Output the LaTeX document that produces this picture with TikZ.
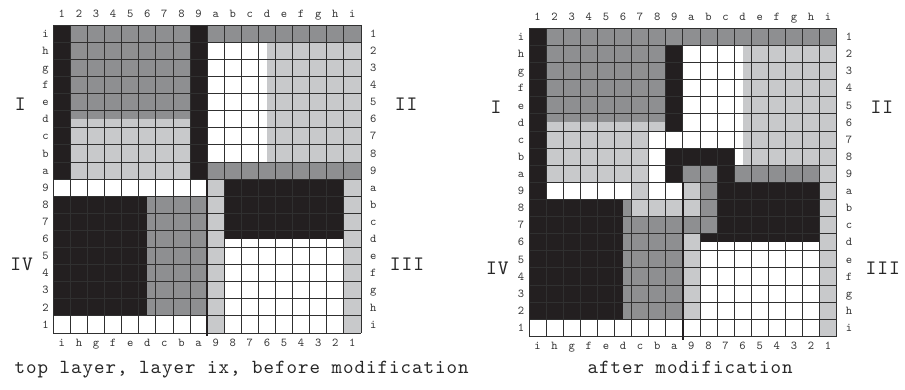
\documentclass[tikz,border=0pt]{standalone}
\usepackage{fontspec}
\newfontfamily\typefont{lmmono10-regular.otf}[LetterSpace=5]
\definecolor{cellblack}{HTML}{231F20}
\definecolor{celldark}{HTML}{8E8F91}
\definecolor{celllight}{HTML}{C8C9CB}
\definecolor{gridline}{HTML}{303030}
\tikzset{
  lbl/.style={font=\typefont\fontsize{12}{12}\selectfont, inner sep=0pt, anchor=base, text=black!80},
  quadname/.style={font=\typefont\fontsize{20.5}{20.5}\selectfont, inner sep=0pt, text=black!85},
  caption/.style={font=\typefont\fontsize{20}{20}\selectfont, inner sep=0pt, anchor=base, text=black!85},
  gridlines/.style={draw=gridline, line width=0.75pt},
  divider/.style={draw=cellblack, line width=1.6pt},
  board/.style={x=17.09pt, y=-17.11pt},
}
% grid lines, centre divider, coordinate labels and quadrant names of one 18x18 board
\newcommand\boardframe[1]{%
  \foreach \i in {0,...,18}{
    \draw[gridlines] (\i,0) -- (\i,18);
    \draw[gridlines] (0,\i) -- (18,\i);
  }
  \draw[divider] (9,9) -- (9,18.2);
  \foreach \t [count=\k from 0] in {1,2,3,4,5,6,7,8,9,a,b,c,d,e,f,g,h,i}{
    \node[lbl] (#1-top-\k) at (\k+0.5,-0.45) {\t};
    \node[lbl] (#1-right-\k) at (18.72,\k+0.72) {\t};
  }
  \foreach \t [count=\k from 0] in {i,h,g,f,e,d,c,b,a,9,8,7,6,5,4,3,2,1}{
    \node[lbl] (#1-left-\k) at (-0.46,\k+0.72) {\t};
    \node[lbl] (#1-bottom-\k) at (\k+0.5,18.8) {\t};
  }
  \node[quadname] (#1-I) at (-1.93,4.62) {I};
  \node[quadname] (#1-II) at (20.65,4.62) {II};
  \node[quadname] (#1-III) at (20.7,14.0) {III};
  \node[quadname] (#1-IV) at (-1.85,14.0) {IV};
}
\begin{document}
\begin{tikzpicture}[x=1pt,y=-1pt]
\useasboundingbox (0,0) rectangle (905,390);

% board before modification
\begin{scope}[shift={(53.3,25)}, board]
  % quadrant I
  \fill[cellblack] (0,0) rectangle (1,9);
  \fill[cellblack] (8,0) rectangle (9,9);
  \fill[celldark] (1,0) rectangle (8,5.5);
  \fill[celllight] (1,5.5) rectangle (8,9);
  % quadrant II
  \fill[celldark] (9,0) rectangle (18,1);
  \fill[celldark] (9,8) rectangle (18,9);
  \fill[celllight] (12.5,1) rectangle (18,8);
  % quadrant III
  \fill[celllight] (9,9) rectangle (10,18);
  \fill[celllight] (17,9) rectangle (18,18);
  \fill[cellblack] (10,9) rectangle (17,12.5);
  % quadrant IV
  \fill[cellblack] (0,10) rectangle (5.5,17);
  \fill[celldark] (5.5,10) rectangle (9,17);
  \boardframe{pre}
\end{scope}

% board after modification
\begin{scope}[shift={(529,28.3)}, board]
  % quadrant I
  \fill[cellblack] (0,0) rectangle (1,10);
  \fill[celldark] (1,0) rectangle (18,1);
  \fill[celldark] (1,1) rectangle (8,5.5);
  \fill[celllight] (1,5.5) rectangle (7,9);
  \fill[celllight] (7,5.5) rectangle (8,6);
  \fill[cellblack] (8,1) rectangle (9,6);
  \fill[cellblack] (8,7) rectangle (12,8);
  \fill[cellblack] (8,8) rectangle (9,9);
  \fill[celllight] (6,9) rectangle (7,10);
  % quadrant II
  \fill[celllight] (12.5,1) rectangle (18,8);
  \fill[celldark] (9,8) rectangle (11,9);
  \fill[cellblack] (11,8) rectangle (12,9);
  \fill[celldark] (12,8) rectangle (17,9);
  \fill[celllight] (17,8) rectangle (18,9);
  % quadrant III
  \fill[celllight] (9,9) rectangle (10,11);
  \fill[celldark] (9,11) rectangle (10,12);
  \fill[celllight] (9,12) rectangle (10,17);
  \fill[celldark] (10,9) rectangle (11,12);
  \fill[cellblack] (11,9) rectangle (17,12);
  \fill[cellblack] (10,12) rectangle (17,12.5);
  \fill[celllight] (17,9) rectangle (18,18);
  % quadrant IV
  \fill[cellblack] (0,10) rectangle (5.5,17);
  \fill[celldark] (5.5,10) rectangle (6,17);
  \fill[celllight] (6,10) rectangle (9,11);
  \fill[celldark] (6,11) rectangle (9,17);
  \boardframe{post}
\end{scope}

\node[caption] (cap-pre) at (241.6,373) {top layer, layer ix, before modification};
\node[caption] (cap-post) at (690,373) {after modification};
\end{tikzpicture}
\end{document}
